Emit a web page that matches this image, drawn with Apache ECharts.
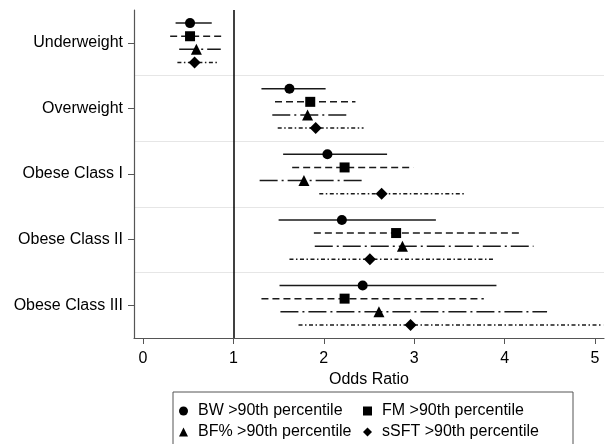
<!DOCTYPE html>
<html>
<head>
<meta charset="utf-8">
<script src="https://cdn.jsdelivr.net/npm/echarts@6/dist/echarts.min.js"></script>
<style>
html,body{margin:0;padding:0;background:#fff;}
#chart{width:610px;height:444px;}
</style>
</head>
<body>
<div id="chart"></div>
<script>
// ---- data ----
const categories = ['Underweight', 'Overweight', 'Obese Class I', 'Obese Class II', 'Obese Class III'];
const xTicks = [0, 1, 2, 3, 4, 5];
const seriesNames = ['BW >90th percentile', 'FM >90th percentile', 'BF% >90th percentile', 'sSFT >90th percentile'];

const bwOR  = [0.52, 1.62, 2.04, 2.20, 2.43];
const bwLo  = [0.36, 1.31, 1.55, 1.50, 1.51];
const bwHi  = [0.76, 2.02, 2.70, 3.24, 3.91];

const fmOR  = [0.52, 1.85, 2.23, 2.80, 2.23];
const fmLo  = [0.30, 1.46, 1.65, 1.89, 1.31];
const fmHi  = [0.87, 2.35, 2.99, 4.16, 3.77];

const bfOR  = [0.59, 1.82, 1.78, 2.87, 2.61];
const bfLo  = [0.40, 1.43, 1.29, 1.90, 1.52];
const bfHi  = [0.86, 2.28, 2.46, 4.32, 4.47];

const sftOR = [0.57, 1.91, 2.64, 2.51, 2.96];
const sftLo = [0.38, 1.49, 1.95, 1.62, 1.72];
const sftHi = [0.83, 2.44, 3.56, 3.89, 5.09];

// ---- build ----
const groups = [
  {or: bwOR, lo: bwLo, hi: bwHi, symbol: 'circle', size: 10, dash: null},
  {or: fmOR, lo: fmLo, hi: fmHi, symbol: 'rect', size: 10, dash: [7, 4]},
  {or: bfOR, lo: bfLo, hi: bfHi, symbol: 'triangle', size: 11, dash: [18, 4, 2, 4]},
  {or: sftOR, lo: sftLo, hi: sftHi, symbol: 'diamond', size: 12, dash: [4, 2.5, 1.5, 2.5]}
];
const rowOffset = [-0.3, -0.1, 0.1, 0.3];
const FONT = '"Liberation Sans", Arial, sans-serif';

const series = [];
groups.forEach((g, k) => {
  const ciData = categories.map((c, i) => [g.lo[i], g.hi[i], i + 0.5 + rowOffset[k]]);
  series.push({
    type: 'custom',
    name: seriesNames[k] + ' CI',
    xAxisIndex: 0, yAxisIndex: 1,
    data: ciData,
    encode: {x: [0, 1], y: 2},
    z: 2,
    silent: true,
    renderItem: function (params, api) {
      const p1 = api.coord([api.value(0), api.value(2)]);
      const p2 = api.coord([api.value(1), api.value(2)]);
      const style = {stroke: '#1a1a1a', lineWidth: 1.5, fill: null};
      if (g.dash) style.lineDash = g.dash;
      return {
        type: 'line',
        shape: {x1: p1[0], y1: p1[1], x2: p2[0], y2: p2[1]},
        style: style
      };
    }
  });
});
groups.forEach((g, k) => {
  const s = {
    type: 'scatter',
    name: seriesNames[k],
    xAxisIndex: 0, yAxisIndex: 1,
    symbol: g.symbol,
    symbolSize: g.size,
    itemStyle: {color: '#000', opacity: 1},
    data: categories.map((c, i) => [g.or[i], i + 0.5 + rowOffset[k]]),
    z: 5
  };
  if (k === 0) {
    s.markLine = {
      silent: true,
      symbol: ['none', 'none'],
      label: {show: false},
      lineStyle: {color: '#000', width: 1.5, type: 'solid'},
      data: [{xAxis: 1}]
    };
  }
  series.push(s);
});

const legendCommon = {
  orient: 'vertical',
  itemWidth: 9,
  itemHeight: 9,
  itemGap: 5,
  textStyle: {fontSize: 16, color: '#000', fontFamily: FONT, padding: [0, 0, 0, 5]},
  selectedMode: false,
  padding: 0
};

const option = {
  animation: false,
  backgroundColor: '#fff',
  textStyle: {fontFamily: FONT},
  grid: {left: 134, right: 6, top: 10, bottom: 106, containLabel: false},
  xAxis: {
    type: 'value',
    min: -0.1, max: 5.1,
    axisLine: {show: true, onZero: false, lineStyle: {color: '#555', width: 1.2}},
    axisTick: {show: true, length: 6, customValues: xTicks, lineStyle: {color: '#555'}},
    axisLabel: {customValues: xTicks, fontSize: 16, color: '#000', margin: 13, fontFamily: FONT},
    splitLine: {show: false},
    name: 'Odds Ratio',
    nameLocation: 'middle',
    nameGap: 29,
    nameTextStyle: {fontSize: 16, color: '#000', fontFamily: FONT}
  },
  yAxis: [
    {
      type: 'category',
      data: categories,
      inverse: true,
      boundaryGap: true,
      position: 'left',
      axisLine: {show: true, onZero: false, lineStyle: {color: '#555', width: 1.2}},
      axisTick: {show: true, alignWithLabel: true, length: 6, lineStyle: {color: '#555'}},
      axisLabel: {fontSize: 16, color: '#000', margin: 11, fontFamily: FONT},
      splitLine: {show: false}
    },
    {
      type: 'value',
      min: 0, max: 5, interval: 1,
      inverse: true,
      position: 'left',
      axisLine: {show: false, onZero: false},
      axisTick: {show: false},
      axisLabel: {show: false},
      splitLine: {show: true, showMinLine: false, showMaxLine: false, lineStyle: {color: '#e6e6e6', width: 1}}
    }
  ],
  legend: [
    Object.assign({}, legendCommon, {left: 179, top: 403, data: [seriesNames[0], seriesNames[2]]}),
    Object.assign({}, legendCommon, {left: 363, top: 403, data: [seriesNames[1], seriesNames[3]]})
  ],
  graphic: [{
    type: 'rect',
    shape: {x: 173, y: 392, width: 400, height: 70},
    style: {fill: null, stroke: '#555', lineWidth: 1},
    silent: true
  }],
  series: series
};

const chart = echarts.init(document.getElementById('chart'), null, {renderer: 'canvas'});
chart.setOption(option);
</script>
</body>
</html>
